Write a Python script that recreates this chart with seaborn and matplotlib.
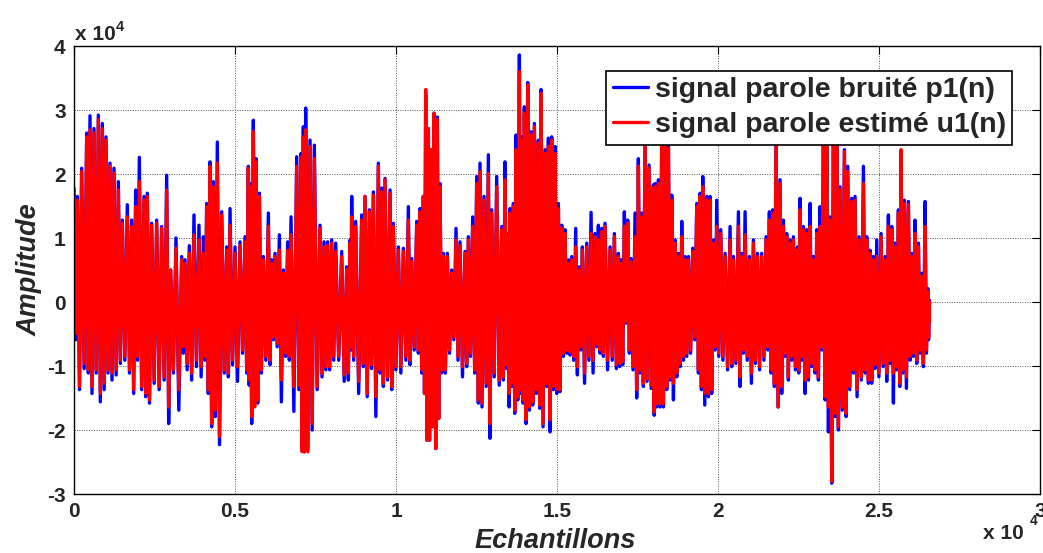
import matplotlib
matplotlib.use("Agg")
import matplotlib.pyplot as plt
import numpy as np
import pandas as pd
import seaborn as sns
from matplotlib.ticker import FuncFormatter

# Sample positions of the envelope readings (échantillons)
samples = [
    0, 104, 238, 394, 497, 621, 756, 880, 994, 1118, 1242, 1377, 1501, 1656, 1791, 1915, 2029, 2174, 2277, 2412,
    2567, 2722, 2878, 3002, 3167, 3343, 3447, 3581, 3726, 3881, 4016, 4120, 4223, 4327, 4451,
    4587, 4742, 4846, 5001, 5156, 5312, 5415, 5467, 5570, 5653, 5757, 5881, 6036, 6140, 6243, 6378, 6502, 6636,
    6740, 6916, 7050, 7123, 7195, 7330, 7464, 7640, 7764, 7878, 8003, 8127, 8313, 8468, 8572, 8624, 8748, 8934,
    9038, 9173, 9297, 9452, 9556, 9659, 9815, 9918, 10073, 10229, 10384, 10487, 10643, 10746, 10850, 10922, 11005,
    11077, 11181, 11284, 11367, 11471, 11595, 11729, 11864, 11988, 12143, 12247, 12381, 12506, 12609, 12733, 12868,
    12971, 13127, 13282, 13385, 13489,
    13542, 13646, 13729, 13832, 13905, 13987, 14091, 14194, 14298, 14422, 14505, 14629, 14733, 14836, 14940, 15043,
    15147, 15250, 15354, 15457, 15581, 15685, 15788, 15923, 16058, 16182, 16285, 16389, 16492, 16648, 16782, 16906,
    16989, 17092, 17196, 17299, 17423, 17527, 17630, 17734, 17858, 17992,
    18046, 18150, 18253, 18357, 18460, 18564, 18668, 18771, 18875, 18978, 19082, 19216, 19340, 19444, 19527, 19651,
    19754, 19858, 19961, 20085, 20220, 20375, 20479, 20634, 20737, 20841, 20975, 21100, 21224, 21358, 21493, 21596,
    21700, 21803, 21927, 22031, 22134, 22238, 22342, 22466,
    22549, 22653, 22756, 22860, 22963, 23067, 23170, 23274, 23377, 23481, 23584, 23688, 23791, 23926, 24029, 24154,
    24257, 24381, 24516, 24619, 24723, 24826, 24930, 25064, 25189, 25292, 25396, 25499, 25603, 25685, 25789, 25913,
    26017, 26120, 26224, 26327, 26431, 26514, 26566,
]

# Noisy speech p1(n): positive and negative peaks
noisy_hi = [
    17800, 16500, 20900, 26400, 29100, 27100, 29200, 27900, 25800, 21700, 20900, 18800, 12800, 15200, 12800, 17500,
    22600, 16500, 17000, 12300, 12800, 11800, 19800, 5000, 10000, 7100, 6600, 8800, 13600, 12000, 10200, 15400,
    21900, 18800, 25000,
    14100, 8600, 14600, 8600, 9400, 10200, 21200, 18500, 28400, 22400, 17000, 7100, 13900, 6600, 7600, 10500, 5000,
    9400, 13300, 22700, 23200, 27400, 30300, 25300, 24500, 12000, 9400, 9400, 9700, 9200, 7900, 5500, 9700, 16500,
    12600, 13600,
    16500, 14400, 17200, 21700, 17800, 19300, 17500, 12300, 8600, 8400, 14900, 6800, 12600, 14600, 16500, 32500,
    27100, 23800, 29500, 28900, 18500, 7600, 7600, 5000, 11500, 9400, 7900, 10200, 13300, 19600, 21700, 16500,
    23000, 14400, 19600, 11800, 21900, 10700,
    14600, 15400, 26100, 38600, 25800, 30500, 34300, 26600, 27900, 25300, 33200, 23800, 25600, 25800, 24300, 15400,
    12000, 11300, 6600, 7100, 11500, 5500, 8600, 9200, 14000, 10700, 12000, 11500, 12300, 8600, 10700, 7600, 6600,
    14100, 12800, 6800, 13900, 22400, 13900, 26000, 21400, 18300,
    18500, 19100, 27000, 28000, 24500, 16700, 9700, 7600, 12600, 7100, 7100, 8400, 15400, 17000, 19600, 16500,
    16500, 9700, 15900, 11300, 7600, 11800, 7100, 14100, 7600, 14100, 7100, 9700, 7600, 7600, 10200, 14100, 14400,
    26500, 19100, 12800, 10700, 9700, 10200, 8600,
    16200, 11800, 11300, 15400, 7100, 11300, 14900, 28000, 26500, 13300, 27000, 26000, 18000, 23800, 21200, 16200,
    16500, 10200, 21200, 10200, 8100, 7100, 9700, 10700, 7100, 13600, 11800, 9200, 14400, 23000, 15900, 15700,
    7600, 12800, 9200, 4500, 15700, 2100, 300,
]
noisy_lo = [
    -5900, -13700, -10400, -11100, -14300, -11100, -15600, -13700, -11100, -12200, -11400, -9600, -9100, -11100,
    -14300, -9100, -13700, -14800, -15800, -12700, -13700, -12200, -19000, -11100, -16900, -8000, -10600, -12200,
    -10100, -11700, -9100, -14300, -19500, -17900, -22300,
    -11100, -11700, -9800, -12400, -8000, -11100, -13000, -19000, -15800, -15800, -11100, -9100, -9800, -5900,
    -7000, -15600, -8500, -9100, -17100, -13700, -22900, -23400, -23000, -20000, -13700, -11700, -10600, -10600,
    -9100, -9100, -12400, -12200, -7500, -9100, -14300, -10100,
    -14800, -10400, -17900, -11100, -13200, -12200, -13700, -10600, -11100, -9100, -9800, -7500, -8000, -11100,
    -14300, -21600, -21600, -19500, -22900, -18200, -11100, -11100, -8000, -5900, -9100, -11700, -10100, -8500,
    -11100, -15800, -16400, -13200, -21300, -11700, -13000, -12200, -10400, -16400,
    -13200, -17400, -15300, -14300, -15800, -19000, -16900, -16100, -14300, -16600, -19500, -13200, -20300, -13700,
    -14300, -14000, -8500, -8000, -8300, -9100, -11400, -7500, -12700, -9100, -11100, -7000, -8000, -8500, -10600,
    -9100, -10400, -10100, -9800, -3300, -8000, -10600, -15000, -11100, -13200, -12400, -13500, -17700,
    -16400, -16400, -16400, -13700, -12200, -15300, -11700, -10100, -9100, -8500, -8000, -5900, -11100, -13700,
    -16100, -14800, -14300, -7500, -8500, -9100, -10600, -10100, -9600, -13200, -8000, -9100, -12700, -9600,
    -10600, -9100, -7500, -11100, -13200, -16400, -14300, -8500, -12200, -9100, -10600, -11100,
    -9100, -14300, -12200, -10100, -11100, -12200, -7500, -15300, -20300, -28300, -17900, -20000, -16900, -17900,
    -13700, -11100, -14800, -12200, -11100, -12700, -12700, -10400, -11700, -10100, -12400, -9600, -15800, -10600,
    -13200, -11100, -13500, -9100, -8500, -9600, -8000, -10100, -8000, -5900, -3300,
]

# Estimated speech u1(n): positive and negative peaks
est_hi = [
    16500, 15900, 20400, 25800, 26900, 26400, 28500, 27100, 25300, 21200, 20100, 17500, 12300, 13300, 11800, 14900,
    18800, 15900, 16500, 12000, 12300, 11500, 17500, 5000, 8400, 6600, 6000, 7600, 10500, 9700, 7600, 14900, 21200,
    18000, 21700,
    13600, 8100, 12000, 7600, 8800, 9400, 20900, 18000, 26600, 21900, 16500, 6600, 11800, 6000, 7100, 8100, 4500,
    8100, 10500, 21200, 22600, 25800, 26900, 24300, 22400, 11500, 8600, 8800, 9200, 7900, 7100, 5000, 9200, 13300,
    11800, 12800,
    16500, 14100, 16700, 21200, 17200, 19100, 17000, 11800, 8100, 7900, 12800, 6300, 12000, 14100, 16500, 33200,
    27100, 23800, 29500, 28500, 18000, 7100, 7100, 4500, 9700, 8800, 7600, 9700, 11800, 18500, 20400, 15900, 20100,
    13900, 18000, 11300, 19100, 10200,
    13900, 14900, 23800, 36000, 25300, 29500, 33900, 26100, 27400, 24800, 32600, 23200, 24300, 25300, 23200, 14600,
    11500, 10700, 6000, 6600, 8600, 5000, 8100, 8600, 10700, 10200, 9700, 11000, 11800, 8100, 10200, 7100, 6000,
    11800, 12300, 6300, 10200, 21200, 13300, 25500, 20900, 17800,
    18000, 18500, 26500, 27500, 24000, 15900, 9200, 7100, 10200, 6600, 6600, 7900, 14900, 16500, 18000, 15900,
    15900, 9200, 11800, 10700, 7100, 9700, 6600, 11800, 7100, 10500, 6600, 9200, 7100, 7100, 9700, 12800, 13900,
    26000, 18500, 11800, 10200, 9200, 9700, 8100,
    14400, 11300, 10700, 11800, 6600, 10700, 11800, 27500, 26000, 12800, 26500, 25500, 17500, 23500, 20400, 15700,
    15900, 9700, 18500, 9700, 7600, 6600, 7100, 10200, 6600, 11800, 11300, 8600, 13900, 23800, 15400, 15200, 7100,
    10700, 8600, 4000, 11800, 1600, 0,
]
est_lo = [
    -4900, -13200, -9600, -10600, -13200, -10600, -14300, -12700, -10600, -11100, -10600, -9100, -8500, -10600,
    -13700, -8500, -13200, -14300, -15300, -12200, -13200, -11700, -16400, -10600, -13700, -7000, -9600, -11100,
    -9100, -10100, -8500, -13700, -19000, -16900, -21000,
    -10600, -11100, -9100, -10100, -7500, -10600, -12200, -17900, -16400, -15300, -10600, -8500, -9100, -5500,
    -6500, -12200, -8000, -8500, -13200, -13000, -23400, -23400, -23400, -19000, -13200, -11100, -10100, -10100,
    -8500, -8500, -11400, -11100, -7000, -8500, -12400, -9600,
    -14300, -9800, -14800, -10600, -12700, -11700, -13200, -10100, -10100, -8500, -9100, -7000, -7500, -10600,
    -14300, -21600, -21600, -19500, -22900, -18200, -10600, -10600, -7500, -5500, -8500, -10100, -9600, -8000,
    -10600, -15300, -15800, -12700, -19000, -11100, -12200, -11700, -9800, -14300,
    -12700, -16900, -14800, -13700, -15300, -18400, -16400, -15600, -13700, -16100, -19000, -12700, -18400, -13200,
    -13700, -13700, -8000, -7500, -7800, -8500, -10100, -7000, -11100, -8500, -9100, -6500, -7500, -8000, -9100,
    -8500, -9800, -9600, -9300, -3000, -7500, -10100, -13700, -10600, -12700, -12000, -13000, -17200,
    -15900, -15900, -15900, -13200, -11700, -12700, -11100, -9600, -8500, -8000, -7500, -5500, -10600, -13200,
    -14300, -14300, -13700, -7000, -8000, -8500, -10100, -9600, -9100, -11700, -7500, -8500, -11100, -9100,
    -10100, -8500, -7000, -10600, -12700, -16400, -13200, -8000, -11700, -8500, -10100, -10600,
    -8500, -12200, -11700, -9600, -10600, -11700, -7000, -14800, -16400, -28000, -17400, -19500, -16400, -17400,
    -13200, -10600, -13700, -11700, -10600, -12200, -12200, -9800, -11100, -9600, -11100, -9100, -11100, -10100,
    -12700, -10600, -11700, -8500, -8000, -9100, -7500, -9600, -7500, -5500, -3000,
]

series_names = ["signal parole bruité p1(n)", "signal parole estimé u1(n)"]
series_colors = ["#0000ff", "#ff0000"]
x_ticks = [0, 5000, 10000, 15000, 20000, 25000, 30000]
y_ticks = [-30000, -20000, -10000, 0, 10000, 20000, 30000, 40000]


def oscillation(pos, hi, lo):
    """Alternate between the positive and negative peak of every reading."""
    xs, ys = [], []
    for i, p in enumerate(pos):
        q = pos[i + 1] if i + 1 < len(pos) else p
        xs.extend([p, (p + q) / 2])
        ys.extend([hi[i], lo[i]])
    return xs, ys


frames = []
for name, hi, lo in zip(series_names, [noisy_hi, est_hi], [noisy_lo, est_lo]):
    xs, ys = oscillation(samples, hi, lo)
    frames.append(pd.DataFrame({"sample": xs, "amplitude": ys, "series": name}))
df = pd.concat(frames, ignore_index=True)

sns.set_theme(style="white")
plt.rcParams["font.family"] = ["Liberation Sans", "DejaVu Sans"]
plt.rcParams["font.weight"] = "bold"
plt.rcParams["axes.labelweight"] = "bold"

W, H = 1043, 553
fig = plt.figure(figsize=(W / 100, H / 100), dpi=100)
ax = fig.add_axes([74 / W, 1 - 494 / H, 966 / W, 448 / H])

sns.lineplot(
    data=df, x="sample", y="amplitude", hue="series", hue_order=series_names,
    palette=dict(zip(series_names, series_colors)), sort=False, estimator=None,
    linewidth=2.4, ax=ax,
)

ax.set_xlim(x_ticks[0], x_ticks[-1])
ax.set_ylim(y_ticks[0], y_ticks[-1])
ax.set_xticks(x_ticks)
ax.set_yticks(y_ticks)
fmt = FuncFormatter(lambda v, _: f"{v / 1e4:g}")
ax.xaxis.set_major_formatter(fmt)
ax.yaxis.set_major_formatter(fmt)
ax.tick_params(axis="both", which="both", direction="in", length=6, width=0.8, color="black",
               top=True, right=True, labelsize=15, pad=6)
for lbl in ax.get_xticklabels() + ax.get_yticklabels():
    lbl.set_fontweight("bold")

ax.grid(True, linestyle=(0, (1, 1.5)), color="#555555", linewidth=0.7)
for sp in ax.spines.values():
    sp.set_color("black")
    sp.set_linewidth(1.0)

ax.set_xlabel("Echantillons", fontsize=19.5, fontstyle="italic", fontweight="bold")
ax.set_ylabel("Amplitude", fontsize=19.5, fontstyle="italic", fontweight="bold")
ax.xaxis.set_label_coords(0.498, -0.075)
ax.yaxis.set_label_coords(-0.033, 0.5)

handles, labels = ax.get_legend_handles_labels()
leg = ax.legend(handles, labels, loc="upper right", bbox_to_anchor=((1012 - 74) / 966, (494 - 71) / 448),
                borderaxespad=0, fontsize=20.5, frameon=True, fancybox=False, framealpha=1,
                edgecolor="black", borderpad=0.22, labelspacing=0.32, handlelength=1.25,
                handletextpad=0.22)
leg.get_frame().set_linewidth(1.2)
for t in leg.get_texts():
    t.set_fontweight("bold")

# Scale factors in MATLAB style
fig.text(75 / W, 1 - 40 / H, "x 10", fontsize=15, fontweight="bold", ha="left", va="baseline")
fig.text(116 / W, 1 - 31 / H, "4", fontsize=10.5, fontweight="bold", ha="left", va="baseline")
fig.text(983 / W, 1 - 539 / H, "x 10", fontsize=15, fontweight="bold", ha="left", va="baseline")
fig.text(1030 / W, 1 - 525 / H, "4", fontsize=10, fontweight="bold", ha="left", va="baseline")

fig.savefig("out.png", dpi=100, facecolor="white")
